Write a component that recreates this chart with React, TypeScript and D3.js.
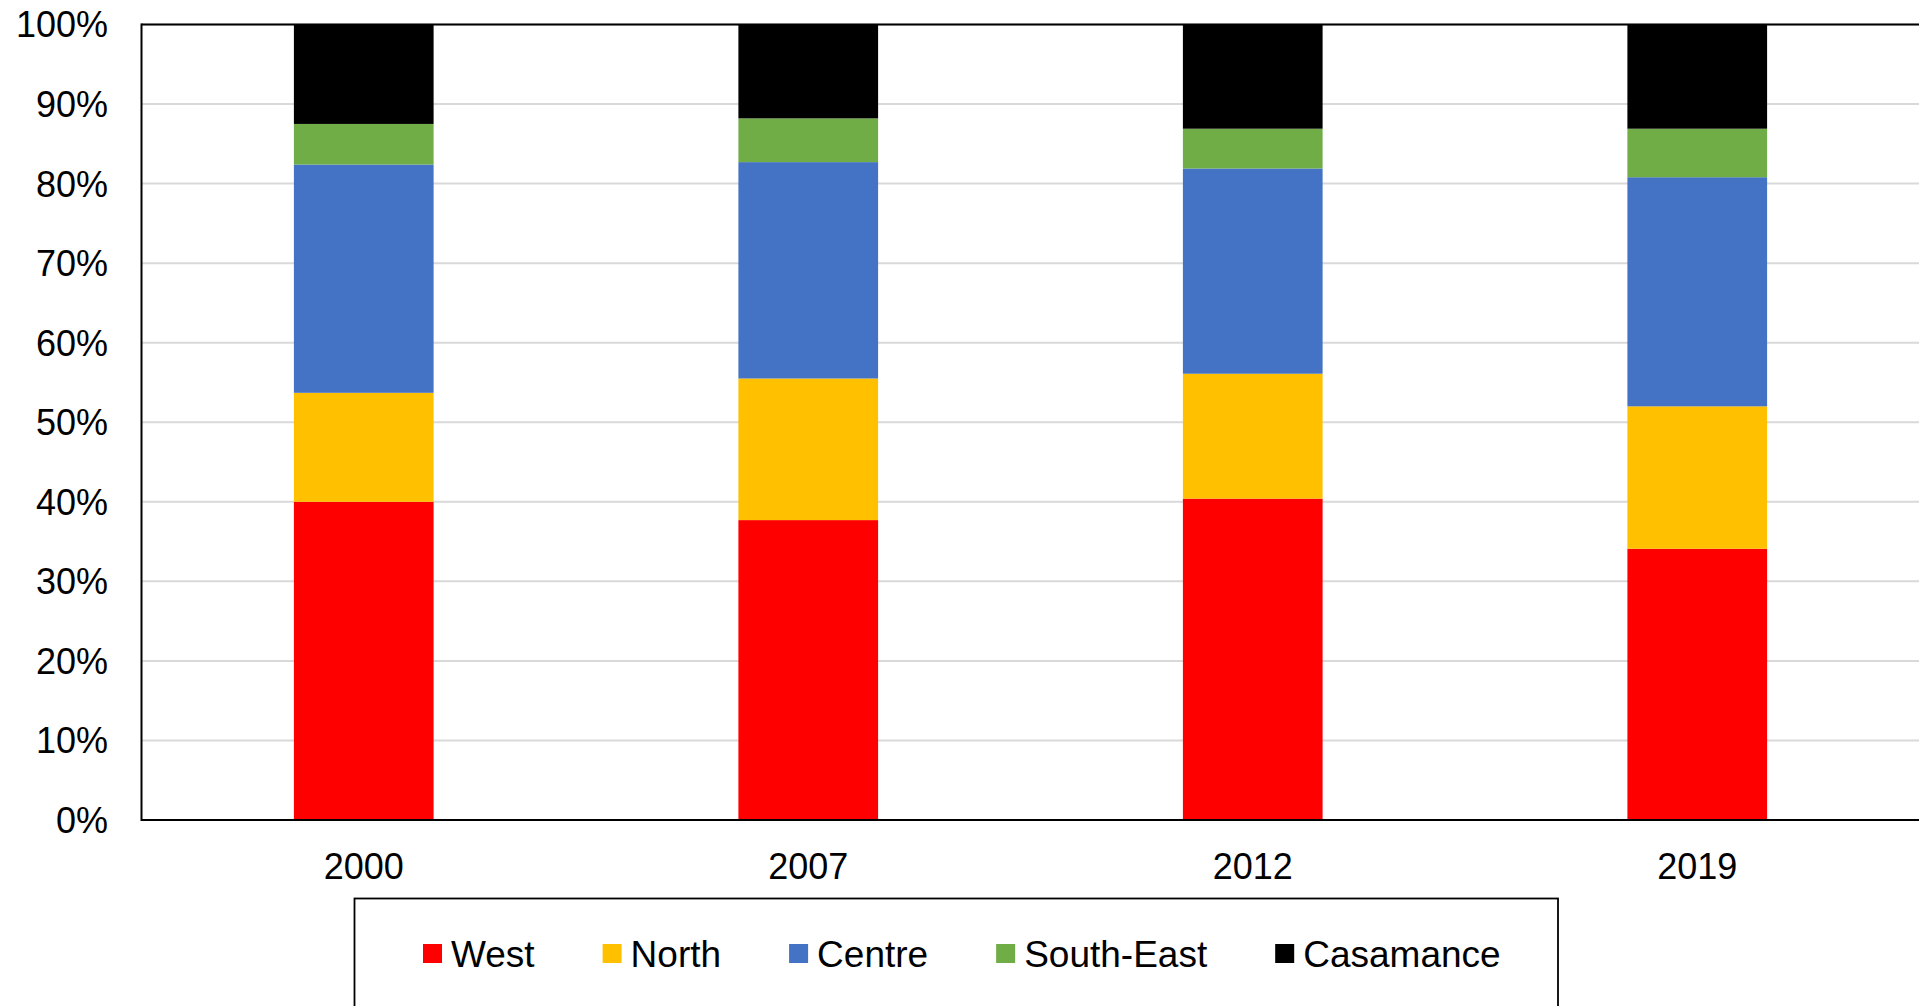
import React from "react";
import * as d3 from "d3";

const years = ["2000", "2007", "2012", "2019"];
const regions = ["West", "North", "Centre", "South-East", "Casamance"];
const colors = ["#FF0000", "#FFC000", "#4472C4", "#70AD47", "#000000"];
const west = [40.0, 37.7, 40.4, 34.1];
const north = [13.7, 17.8, 15.7, 17.9];
const centre = [28.7, 27.2, 25.8, 28.8];
const southEast = [5.1, 5.5, 5.0, 6.1];
const casamance = [12.5, 11.8, 13.1, 13.1];
const yTicks = [0, 10, 20, 30, 40, 50, 60, 70, 80, 90, 100];

const W = 1919;
const H = 1006;
const FONT = "'Liberation Sans', Arial, sans-serif";

function measure(text: string, size: number): number {
  if (typeof document === "undefined") return text.length * size * 0.55;
  const c = document.createElement("canvas");
  const ctx = c.getContext("2d");
  if (!ctx) return text.length * size * 0.55;
  ctx.font = `${size}px 'Liberation Sans', Arial, sans-serif`;
  return ctx.measureText(text).width;
}

export default function App() {
  const left = 141.5;
  const top = 24.5;
  const bottom = 820;
  const step = 444.5;
  const x = d3.scaleBand<string>().domain(years).range([left, left + step * years.length]).padding(0);
  const y = d3.scaleLinear().domain([0, 100]).range([bottom, top]);
  const barW = x.bandwidth() * 0.3143;

  const rows = years.map((yr, i) => ({
    year: yr,
    West: west[i],
    North: north[i],
    Centre: centre[i],
    "South-East": southEast[i],
    Casamance: casamance[i],
  }));
  const stack = d3.stack<any>().keys(regions)(rows);

  // legend layout
  const legSize = 37;
  const sq = 19;
  let lx = 423;
  const legendItems = regions.map((r, i) => {
    const item = { r, i, x: lx };
    lx += sq + 9 + measure(r, legSize) + 68;
    return item;
  });
  const legY = 953.5;

  return (
    <svg
      width={W}
      height={H}
      style={{ position: "absolute", left: 0, top: 0, background: "#fff" }}
      fontFamily={FONT}
    >
      <rect x={0} y={0} width={W} height={H} fill="#fff" />
      {/* gridlines */}
      {yTicks.map((t) => (
        <line
          key={t}
          x1={left}
          x2={W}
          y1={y(t)}
          y2={y(t)}
          stroke="#D9D9D9"
          strokeWidth={2}
        />
      ))}
      {/* bars */}
      {stack.map((s, si) => (
        <g key={regions[si]} fill={colors[si]}>
          {s.map((d, di) => (
            <rect
              key={di}
              x={(x(years[di]) as number) + x.bandwidth() / 2 - barW / 2}
              width={barW}
              y={y(d[1])}
              height={y(d[0]) - y(d[1])}
            />
          ))}
        </g>
      ))}
      {/* frame */}
      <line x1={left} x2={W} y1={top} y2={top} stroke="#000" strokeWidth={2} />
      <line x1={left} x2={W} y1={bottom} y2={bottom} stroke="#000" strokeWidth={2.2} />
      <line x1={left} x2={left} y1={top - 1} y2={bottom + 1} stroke="#000" strokeWidth={2} />
      {/* y tick labels */}
      {yTicks.map((t) => (
        <text
          key={t}
          x={108}
          y={y(t)}
          dy="0.36em"
          textAnchor="end"
          fontSize={36}
          fill="#000"
        >
          {`${t}%`}
        </text>
      ))}
      {/* x labels */}
      {years.map((yr) => (
        <text
          key={yr}
          x={(x(yr) as number) + x.bandwidth() / 2}
          y={878.5}
          textAnchor="middle"
          fontSize={36}
          fill="#000"
        >
          {yr}
        </text>
      ))}
      {/* legend */}
      <rect x={354.5} y={898.5} width={1203.5} height={130} fill="#fff" stroke="#000" strokeWidth={1.8} />
      {legendItems.map((it) => (
        <g key={it.r}>
          <rect x={it.x} y={legY - sq / 2} width={sq} height={sq} fill={colors[it.i]} />
          <text x={it.x + sq + 9} y={legY} dy="0.36em" fontSize={legSize} fill="#000">
            {it.r}
          </text>
        </g>
      ))}
    </svg>
  );
}
